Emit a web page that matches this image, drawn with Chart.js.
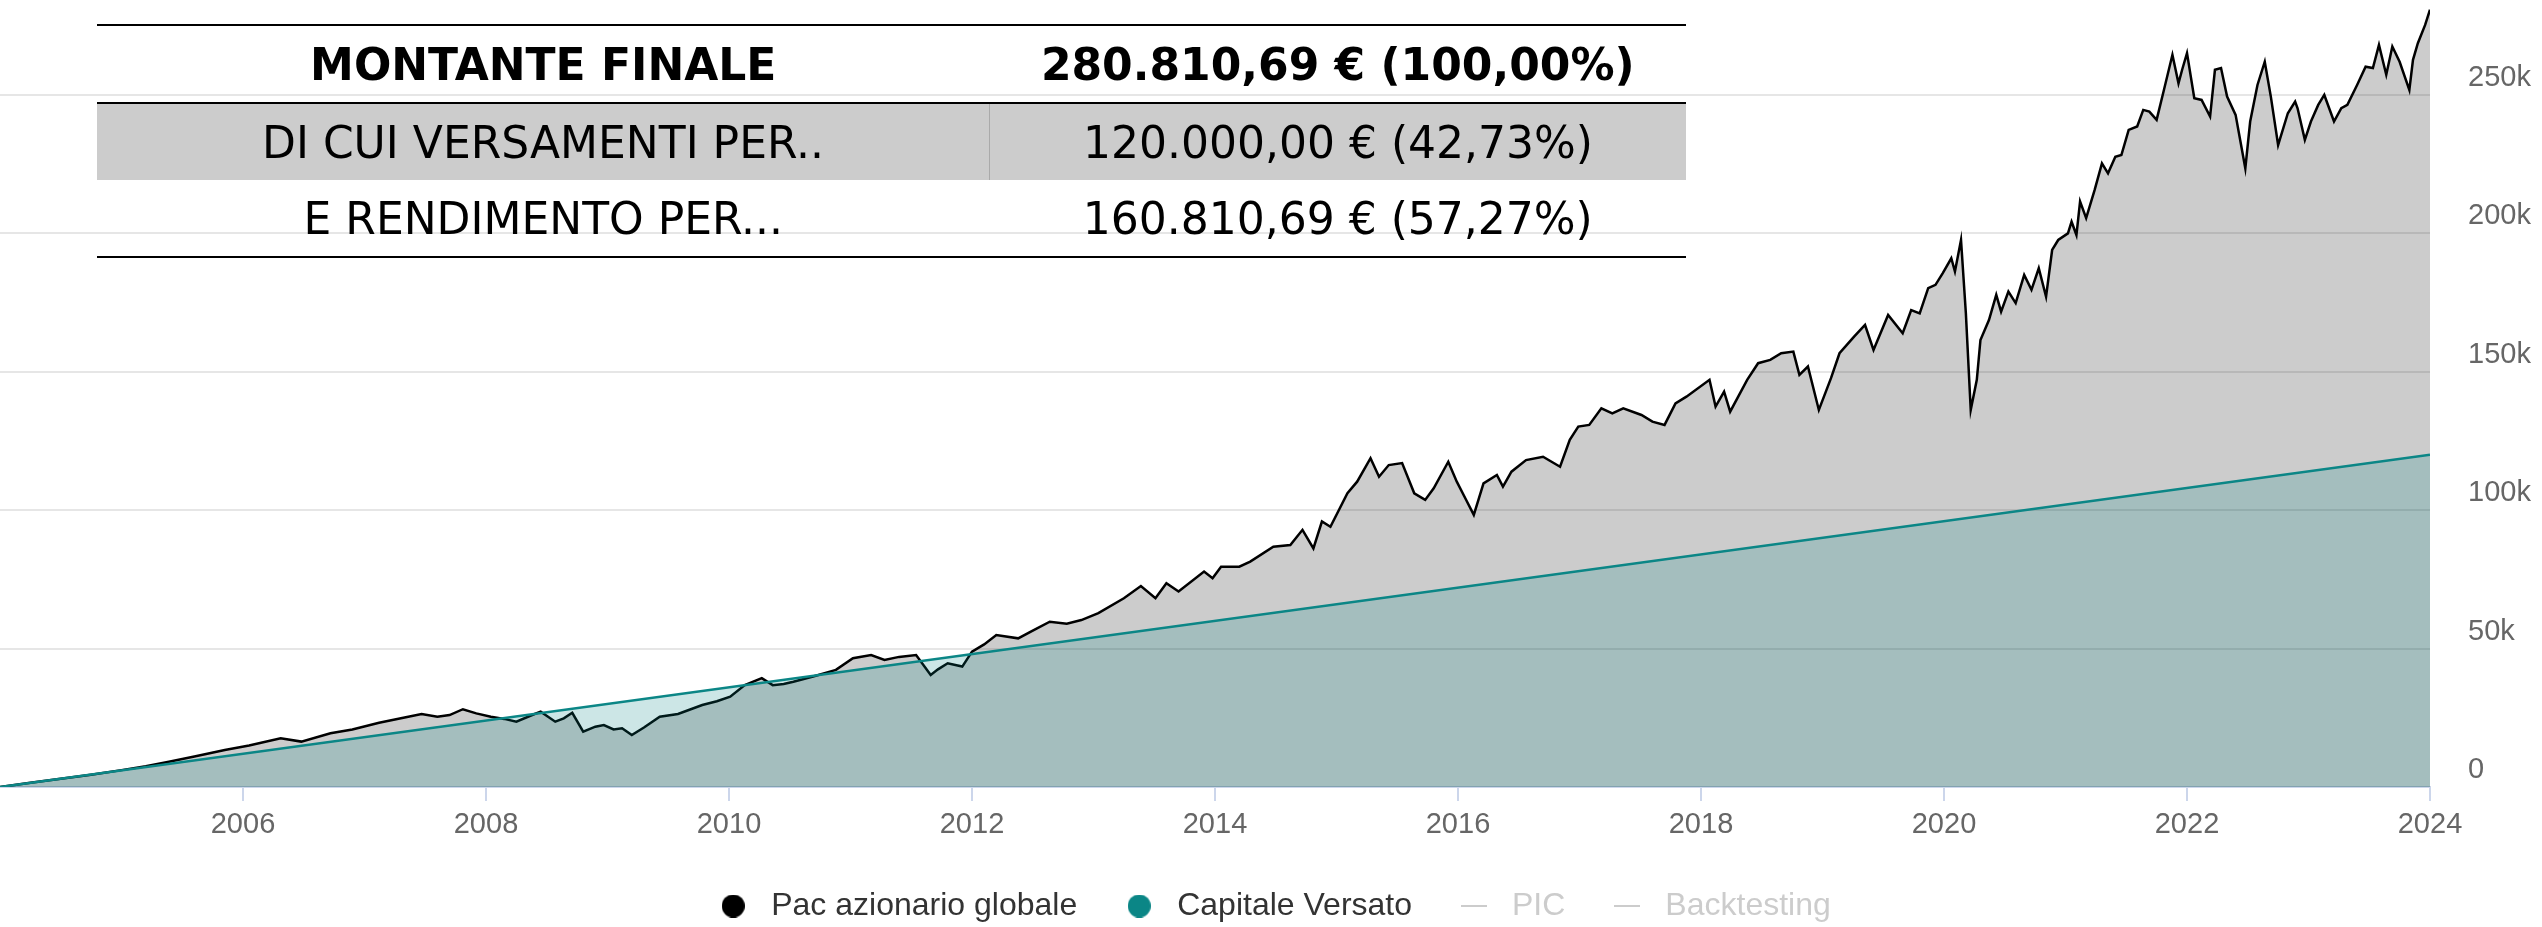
<!DOCTYPE html>
<html lang="it">
<head>
<meta charset="UTF-8">
<title>Pac azionario globale</title>
<script src="https://cdn.jsdelivr.net/npm/chart.js"></script>
<style>
    body { margin: 0; background: #fff; }
    .wrap { position: relative; width: 2542px; height: 927px; }
    #grafico { position: absolute; left: 0; top: 0; }
    table.riepilogo {
        position: absolute; left: 97px; top: 24px; width: 1589px;
        border-collapse: collapse;
        font-family: "DejaVu Sans", Verdana, sans-serif; font-size: 44px; color: #000;
    }
    table.riepilogo td { height: 76px; padding: 0; text-align: center; }
    table.riepilogo td.sx { width: 892px; }
    tr.totale { border-top: 2px solid #000; border-bottom: 2px solid #000; font-weight: bold; }
    tr.versamenti { background: #cccccc; }
    tr.versamenti td.sx { border-right: 1px solid #aaaaaa; }
    tr.rendimento { border-bottom: 2px solid #000; }
</style>
</head>
<body>
<div class="wrap">
    <canvas id="grafico" width="2542" height="927"></canvas>
    <table class="riepilogo">
        <tr class="totale"><td class="sx">MONTANTE FINALE</td><td>280.810,69 € (100,00%)</td></tr>
        <tr class="versamenti"><td class="sx">DI CUI VERSAMENTI PER..</td><td>120.000,00 € (42,73%)</td></tr>
        <tr class="rendimento"><td class="sx">E RENDIMENTO PER...</td><td>160.810,69 € (57,27%)</td></tr>
    </table>
</div>

<script>
    // valori (anno decimale -> euro)
    const pacAnni = [
        2004.00, 2004.25, 2004.50, 2004.75, 2005.00, 2005.20, 2005.39, 2005.60, 2005.85, 2006.05,
        2006.31, 2006.48, 2006.72, 2006.90, 2007.12, 2007.30, 2007.47, 2007.60, 2007.70, 2007.81,
        2007.92, 2008.04, 2008.15, 2008.25, 2008.38, 2008.45, 2008.57, 2008.64, 2008.71, 2008.80,
        2008.90, 2008.97, 2009.05, 2009.12, 2009.20, 2009.30, 2009.43, 2009.58, 2009.68, 2009.78,
        2009.90, 2010.01, 2010.13, 2010.27, 2010.36, 2010.45, 2010.53, 2010.70, 2010.88, 2011.02,
        2011.17, 2011.28, 2011.40, 2011.54, 2011.66, 2011.72, 2011.80, 2011.92, 2012.00, 2012.10,
        2012.20, 2012.38, 2012.50, 2012.64, 2012.78, 2012.90, 2013.04, 2013.25, 2013.39, 2013.51,
        2013.60, 2013.70, 2013.91, 2013.98, 2014.05, 2014.20, 2014.29, 2014.48, 2014.62, 2014.72,
        2014.81, 2014.88, 2014.95, 2015.09, 2015.17, 2015.28, 2015.35, 2015.43, 2015.54, 2015.64,
        2015.73, 2015.80, 2015.92, 2015.99, 2016.06, 2016.13, 2016.21, 2016.32, 2016.37, 2016.44,
        2016.56, 2016.70, 2016.84, 2016.92, 2016.99, 2017.08, 2017.18, 2017.27, 2017.36, 2017.51,
        2017.60, 2017.70, 2017.79, 2017.88, 2018.07, 2018.12, 2018.19, 2018.24, 2018.38, 2018.47,
        2018.57, 2018.66, 2018.76, 2018.81, 2018.88, 2018.97, 2019.07, 2019.14, 2019.26, 2019.35,
        2019.42, 2019.54, 2019.66, 2019.73, 2019.80, 2019.87, 2019.93, 2019.99, 2020.06, 2020.09,
        2020.14, 2020.18, 2020.22, 2020.27, 2020.30, 2020.37, 2020.43, 2020.47, 2020.53, 2020.59,
        2020.66, 2020.72, 2020.78, 2020.84, 2020.89, 2020.94, 2021.02, 2021.05, 2021.09, 2021.12,
        2021.17, 2021.24, 2021.30, 2021.35, 2021.41, 2021.46, 2021.52, 2021.59, 2021.64, 2021.69,
        2021.75, 2021.81, 2021.88, 2021.93, 2021.96, 2022.00, 2022.06, 2022.12, 2022.19, 2022.23,
        2022.28, 2022.33, 2022.40, 2022.48, 2022.52, 2022.58, 2022.64, 2022.69, 2022.75, 2022.83,
        2022.89, 2022.91, 2022.97, 2023.02, 2023.08, 2023.13, 2023.21, 2023.27, 2023.32, 2023.40,
        2023.47, 2023.53, 2023.58, 2023.64, 2023.69, 2023.75, 2023.83, 2023.86, 2023.90, 2023.96,
        2024.00
    ];
    const pacValori = [
        0, 1500, 2950, 4450, 6100, 7500, 9100, 11000, 13400, 15000,
        17600, 16400, 19400, 20800, 23200, 24800, 26400, 25400, 26000, 28100,
        26600, 25400, 24600, 23600, 26000, 27200, 23600, 24800, 26800, 20000,
        21800, 22400, 20800, 21200, 18800, 21500, 25400, 26400, 28000, 29600,
        31000, 32600, 36800, 39300, 36800, 37200, 38000, 40000, 42300, 46500,
        47700, 45900, 47000, 47700, 40500, 42500, 44700, 43500, 48900, 51500,
        54900, 53700, 56500, 59700, 59000, 60300, 62800, 68200, 72600, 68200,
        73600, 70600, 77800, 75400, 79600, 79600, 81400, 86800, 87400, 92900,
        86200, 95900, 94000, 106100, 110300, 118800, 112100, 116300, 117000, 106100,
        103700, 107900, 117500, 110300, 104300, 98300, 109700, 112700, 108500, 113900,
        118100, 119300, 115700, 125400, 130200, 130800, 136800, 135000, 136800, 134400,
        132000, 130800, 138600, 141000, 147100, 137400, 142800, 135600, 147100, 153100,
        154300, 156700, 157300, 148900, 151900, 136200, 147700, 156700, 162700, 166900,
        157900, 170500, 163900, 172300, 171100, 180200, 181400, 185600, 191000, 186200,
        197600, 171100, 136200, 147100, 161500, 168700, 177800, 171700, 179000, 174800,
        185000, 179600, 187400, 177100, 194000, 197600, 200000, 204200, 199400, 211500,
        205500, 215700, 225300, 221700, 227700, 228300, 237400, 238600, 244600, 244000,
        241000, 251800, 264500, 254200, 259100, 265100, 248800, 248200, 242200, 259100,
        259700, 249400, 242800, 223500, 240400, 253600, 262000, 249400, 231900, 243400,
        247600, 245200, 233800, 240400, 246400, 250000, 240400, 245200, 246400, 253600,
        260200, 259700, 268100, 257300, 267500, 262000, 251800, 262700, 268700, 275300,
        280800
    ];

    // capitale versato: 500 euro al mese per 20 anni
    const versatoAnni = [2004, 2024];
    const versatoValori = [0, 120000];

    const tickAnni = [2006, 2008, 2010, 2012, 2014, 2016, 2018, 2020, 2022, 2024];
    const tickValori = [0, 50000, 100000, 150000, 200000, 250000];

    const nomiSerie = ['Pac azionario globale', 'Capitale Versato', 'PIC', 'Backtesting'];
    const coloriLegenda = ['#000000', '#0b8686', '#cccccc', '#cccccc'];

    function punti(anni, valori) {
        return anni.map((a, i) => ({ x: a, y: valori[i] }));
    }

    // simboli della legenda disegnati su piccoli canvas
    function cerchio(colore) {
        const c = document.createElement('canvas');
        c.width = 23; c.height = 23;
        const g = c.getContext('2d');
        g.fillStyle = colore;
        g.beginPath(); g.arc(11.5, 11.5, 11.5, 0, Math.PI * 2); g.fill();
        return c;
    }
    function trattino(colore) {
        const c = document.createElement('canvas');
        c.width = 26; c.height = 4;
        const g = c.getContext('2d');
        g.fillStyle = colore;
        g.fillRect(0, 1, 26, 2);
        return c;
    }
    const simboli = [cerchio(coloriLegenda[0]), cerchio(coloriLegenda[1]), trattino(coloriLegenda[2]), trattino(coloriLegenda[3])];

    Chart.defaults.font.family = '"Liberation Sans", Arial, sans-serif';

    const ctx = document.getElementById('grafico').getContext('2d');
    const grafico = new Chart(ctx, {
        type: 'line',
        data: {
            datasets: [
                {
                    label: nomiSerie[0],
                    data: punti(pacAnni, pacValori),
                    borderColor: '#000000',
                    borderWidth: 2.5,
                    backgroundColor: 'rgba(0, 0, 0, 0.2)',
                    fill: 'origin',
                    pointRadius: 0,
                    order: 2
                },
                {
                    label: nomiSerie[1],
                    data: punti(versatoAnni, versatoValori),
                    borderColor: '#0b8686',
                    borderWidth: 2.5,
                    backgroundColor: 'rgba(0, 128, 128, 0.2)',
                    fill: 'origin',
                    pointRadius: 0,
                    order: 1
                },
                { label: nomiSerie[2], data: [], borderColor: '#cccccc', pointRadius: 0, order: 3 },
                { label: nomiSerie[3], data: [], borderColor: '#cccccc', pointRadius: 0, order: 4 }
            ]
        },
        options: {
            responsive: false,
            animation: false,
            layout: { padding: { bottom: -5 } },
            plugins: {
                tooltip: { enabled: false },
                legend: {
                    position: 'bottom',
                    labels: {
                        usePointStyle: true,
                        boxWidth: 16,
                        boxHeight: 16,
                        pointStyleWidth: 44,
                        padding: 40,
                        font: { size: 32 },
                        color: '#333333',
                        generateLabels: (chart) => chart.data.datasets.map((ds, i) => ({
                            text: ds.label,
                            datasetIndex: i,
                            fillStyle: coloriLegenda[i],
                            strokeStyle: coloriLegenda[i],
                            lineWidth: 0,
                            pointStyle: simboli[i],
                            fontColor: i < 2 ? '#333333' : '#cccccc',
                            hidden: false
                        }))
                    }
                }
            },
            scales: {
                x: {
                    type: 'linear',
                    min: 2004,
                    max: 2024,
                    afterBuildTicks: (s) => { s.ticks = tickAnni.map(v => ({ value: v })); },
                    afterFit: (s) => { s.height = 63; },
                    ticks: {
                        callback: (v) => String(v),
                        color: '#666666',
                        font: { size: 29 },
                        padding: 7,
                        maxRotation: 0,
                        autoSkip: false
                    },
                    grid: { drawOnChartArea: false, drawTicks: true, tickLength: 14, color: '#ccd6eb', lineWidth: 2 },
                    border: { color: '#ccd6eb', width: 2 }
                },
                y: {
                    position: 'right',
                    min: 0,
                    max: 284300,
                    afterBuildTicks: (s) => { s.ticks = tickValori.map(v => ({ value: v })); },
                    afterFit: (s) => { s.width = 112; s.paddingTop = 0; s.paddingBottom = 0; },
                    ticks: {
                        callback: (v) => v === 0 ? '0' : (v / 1000) + 'k',
                        color: '#666666',
                        font: { size: 29 },
                        padding: 0,
                        labelOffset: -17
                    },
                    grid: { color: '#e6e6e6', lineWidth: 2, drawTicks: true, tickLength: 38, tickColor: 'rgba(0,0,0,0)' },
                    border: { display: false }
                }
            }
        }
    });
</script>
</body>
</html>
